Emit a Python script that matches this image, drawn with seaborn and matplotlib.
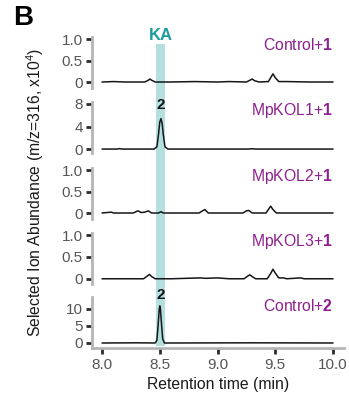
import numpy as np
import pandas as pd
import matplotlib
matplotlib.use('Agg')
import matplotlib.pyplot as plt
import matplotlib.transforms as mtransforms
from matplotlib.patches import Rectangle
import seaborn as sns

# Retention time (min) / intensity (x10^4)
t_ctrl1 = [8.0, 8.1, 8.2, 8.37, 8.40, 8.415, 8.43, 8.46, 8.6, 8.8, 9.0, 9.1, 9.25,
           9.28, 9.30, 9.32, 9.36, 9.44, 9.46, 9.48, 9.50, 9.53, 9.6, 9.8, 10.0]
y_ctrl1 = [0, 0.01, 0, 0, 0.04, 0.07, 0.04, 0, 0, 0.01, 0, 0.01, 0,
           0.04, 0.07, 0.03, 0, 0.01, 0.10, 0.19, 0.10, 0.01, 0.01, 0, 0]

t_kol1 = [8.0, 8.13, 8.15, 8.17, 8.45, 8.475, 8.49, 8.50, 8.51, 8.52, 8.53, 8.545,
          8.57, 9.27, 9.30, 9.33, 10.0]
y_kol1 = [0, 0, 0.08, 0, 0, 0.4, 2.8, 4.8, 5.4, 4.6, 2.6, 0.4,
          0, 0, 0.06, 0, 0]

t_kol2 = [8.0, 8.08, 8.10, 8.27, 8.31, 8.34, 8.37, 8.40, 8.43, 8.49, 8.51, 8.53,
          8.84, 8.87, 8.89, 8.92, 9.22, 9.25, 9.27, 9.30, 9.42, 9.44, 9.46, 9.48,
          9.51, 9.7, 10.0]
y_kol2 = [0, 0.02, 0, 0, 0.05, 0.01, 0.02, 0.05, 0, 0, 0.03, 0,
          0, 0.05, 0.08, 0, 0, 0.05, 0.06, 0, 0, 0.08, 0.16, 0.08,
          0, 0, 0]

t_kol3 = [8.0, 8.36, 8.39, 8.41, 8.43, 8.46, 8.6, 8.85, 8.9, 9.0, 9.1, 9.23,
          9.26, 9.28, 9.30, 9.33, 9.43, 9.46, 9.48, 9.50, 9.53, 9.57, 9.6, 9.72,
          9.75, 10.0]
y_kol3 = [0, 0, 0.06, 0.10, 0.05, 0, 0, 0.02, 0.01, 0.02, 0, 0,
          0.06, 0.09, 0.05, 0, 0, 0.12, 0.22, 0.13, 0.02, 0.02, 0, 0.02,
          0, 0]

t_ctrl2 = [8.0, 8.3, 8.46, 8.475, 8.485, 8.495, 8.50, 8.505, 8.515, 8.525, 8.54,
           8.56, 9.3, 10.0]
y_ctrl2 = [0, 0.05, 0, 0.8, 5.0, 9.8, 10.9, 10.2, 5.5, 1.2, 0,
           0, 0.05, 0]

samples = ['Control', 'MpKOL1', 'MpKOL2', 'MpKOL3', 'Control']
substrates = ['1', '1', '1', '1', '2']
traces = [(t_ctrl1, y_ctrl1), (t_kol1, y_kol1), (t_kol2, y_kol2),
          (t_kol3, y_kol3), (t_ctrl2, y_ctrl2)]
ylims = [(-0.14, 1.05), (-0.7, 8.35), (-0.14, 1.05), (-0.12, 1.05), (-1.47, 13.5)]
yticks = [[0, 0.5, 1.0], [0, 4, 8], [0, 0.5, 1.0], [0, 0.5, 1.0], [0, 5, 10]]
ytick_labels = [['0', '0.5', '1.0'], ['0', '4', '8'], ['0', '0.5', '1.0'],
                ['0', '0.5', '1.0'], ['0', '5', '10']]
xticks = [8.0, 8.5, 9.0, 9.5, 10.0]
ka_window = (8.47, 8.545)
peak_labels = {1: (8.51, 7.8), 4: (8.505, 14.2)}

sns.set_theme(style='ticks')
plt.rcParams['font.family'] = ['Liberation Sans', 'DejaVu Sans']
plt.rcParams['mathtext.fontset'] = 'custom'
plt.rcParams['mathtext.rm'] = 'Liberation Sans'
plt.rcParams['mathtext.bf'] = 'Liberation Sans:bold'

W, H = 349, 404
fig = plt.figure(figsize=(W / 100, H / 100), dpi=100)

spine_grey = '#b5b5b5'
tick_dark = '#2b2b2b'
label_grey = '#555555'
purple = '#8e1f8e'
teal = '#1b9c9c'

left_px, right_px = 92, 344
tops_px = [37, 102, 168, 233, 297]
panel_h = 51

axes = []
for i, (t, y) in enumerate(traces):
    top = tops_px[i]
    ax = fig.add_axes([left_px / W, 1 - (top + panel_h) / H,
                       (right_px - left_px) / W, panel_h / H])
    ax.set_facecolor('none')
    df = pd.DataFrame({'time': t, 'abundance': y})
    sns.lineplot(data=df, x='time', y='abundance', ax=ax, color='#161616',
                 lw=1.1, estimator=None, sort=False)
    ax.set_xlim(7.913, 10.095)
    ax.set_ylim(*ylims[i])
    ax.set_yticks(yticks[i])
    ax.set_yticklabels(ytick_labels[i])
    ax.set_xlabel('')
    ax.set_ylabel('')
    for s in ['top', 'right']:
        ax.spines[s].set_visible(False)
    ax.spines['left'].set_color(spine_grey)
    ax.spines['left'].set_linewidth(2.0)
    ax.tick_params(axis='y', colors=tick_dark, length=4.5, width=2.0,
                   labelsize=11, labelcolor=label_grey, pad=2)
    if i < len(traces) - 1:
        ax.spines['bottom'].set_visible(False)
        ax.set_xticks([])
    else:
        ax.spines['bottom'].set_color(spine_grey)
        ax.spines['bottom'].set_linewidth(2.0)
        ax.set_xticks(xticks)
        ax.set_xticklabels([f'{v:.1f}' for v in xticks])
        ax.tick_params(axis='x', colors=tick_dark, length=4.5, width=2.0,
                       labelsize=11, labelcolor=label_grey, pad=3)
        ax.set_xlabel('Retention time (min)', fontsize=11.3, color='#1a1a1a',
                      labelpad=3)
    lbl_y = 0.84 if i < len(traces) - 1 else 0.82
    ax.text(10.0, lbl_y, samples[i] + r'+$\mathbf{' + substrates[i] + '}$',
            transform=mtransforms.blended_transform_factory(ax.transData, ax.transAxes),
            ha='right', va='center', fontsize=11.3, color=purple)
    if i in peak_labels:
        px, py = peak_labels[i]
        ax.text(px, py, '2', ha='center', va='center', fontsize=11,
                fontweight='bold', color='#111111', clip_on=False)
    axes.append(ax)

# KA retention window spanning all panels
bottom_ax = axes[-1]
blend = mtransforms.blended_transform_factory(bottom_ax.transData, fig.transFigure)
band = Rectangle((ka_window[0], 1 - 346 / H), ka_window[1] - ka_window[0],
                 (346 - 44) / H, transform=blend, facecolor='#b3dfdf',
                 edgecolor='none', zorder=-1)
fig.add_artist(band)
fig.text(sum(ka_window) / 2, 1 - 35 / H, 'KA', transform=blend, ha='center',
         va='center', fontsize=12, fontweight='bold', color=teal)

fig.text(35 / W, 1 - 192 / H, r'Selected Ion Abundance (m/z=316, x10$^{4}$)',
         rotation=90, ha='center', va='center', fontsize=11.3, color='#1a1a1a')
fig.text(13 / W, 1 - 18 / H, 'B', ha='left', va='center', fontsize=20,
         fontweight='bold', color='black')

fig.savefig('out.png', dpi=100)
